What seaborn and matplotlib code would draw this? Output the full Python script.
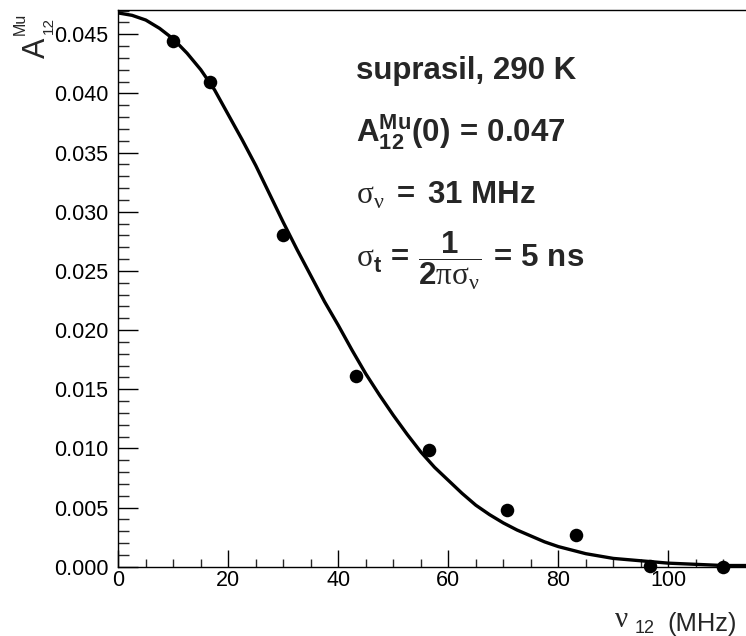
import matplotlib
matplotlib.use("Agg")
import matplotlib.pyplot as plt
import matplotlib.ticker as mticker
import pandas as pd
import seaborn as sns

# ---- data ----
nu_points = [10.0, 16.7, 29.9, 43.3, 56.5, 70.7, 83.2, 96.7, 109.9]
amp_points = [0.0444, 0.0410, 0.0280, 0.0161, 0.0099, 0.0048, 0.0027, 0.00005, 0.0000]

# fitted curve, every 2.5 MHz
nu_curve = [0, 2.5, 5, 7.5, 10, 12.5, 15, 17.5, 20, 22.5, 25, 27.5, 30, 32.5,
            35, 37.5, 40, 42.5, 45, 47.5, 50, 52.5, 55, 57.5, 60, 62.5, 65,
            67.5, 70, 72.5, 75, 77.5, 80, 82.5, 85, 87.5, 90, 92.5, 95, 97.5,
            100, 102.5, 105, 107.5, 110, 112.5, 115]
amp_curve = [0.0468, 0.0466, 0.0462, 0.0455, 0.0446, 0.0434, 0.0420, 0.0403,
             0.0382, 0.0361, 0.0339, 0.0315, 0.0291, 0.0268, 0.0246, 0.0224,
             0.0204, 0.0183, 0.0163, 0.0145, 0.0128, 0.0112, 0.0097, 0.0084,
             0.0073, 0.0062, 0.0052, 0.0044, 0.0037, 0.0031, 0.0026, 0.0021,
             0.0017, 0.0014, 0.0011, 0.0009, 0.0007, 0.0006, 0.0005, 0.0004,
             0.0003, 0.00025, 0.0002, 0.00015, 0.0001, 0.0001, 0.0001]

x_ticks = [0, 20, 40, 60, 80, 100]
y_ticks = [0.000, 0.005, 0.010, 0.015, 0.020, 0.025, 0.030, 0.035, 0.040, 0.045]
y_tick_labels = ["0.000", "0.005", "0.010", "0.015", "0.020", "0.025",
                 "0.030", "0.035", "0.040", "0.045"]

annot_title = "suprasil, 290 K"
annot_amp = r"$\mathbf{A}_{\mathbf{12}}^{\mathbf{Mu}}\mathbf{(0)\,=\,0.047}$"
annot_sigma_nu = r"$\mathtt{σ}_{\mathtt{ν}}\mathbf{\;=\;31\ MHz}$"
annot_sigma_t = (r"$\mathtt{σ}_{\mathbf{t}}\mathbf{\,=\,}"
                 r"\dfrac{\mathbf{1}}{\mathbf{2}\mathtt{πσ}_{\mathtt{ν}}}"
                 r"\mathbf{\,=\,5\ ns}$")

# ---- style ----
sns.set_style("ticks")
plt.rcParams["font.family"] = ["Liberation Sans", "DejaVu Sans"]
plt.rcParams["mathtext.fontset"] = "custom"
plt.rcParams["mathtext.rm"] = "Liberation Sans"
plt.rcParams["mathtext.bf"] = "Liberation Sans:bold"
plt.rcParams["mathtext.it"] = "Liberation Sans:italic"
plt.rcParams["mathtext.sf"] = "Liberation Sans"
plt.rcParams["mathtext.tt"] = "Liberation Serif"

W, H = 746, 636
fig = plt.figure(figsize=(W / 100, H / 100), dpi=100)
fig.patch.set_facecolor("white")

xmax = 115.0
px_per_unit = 5.5
left_px, bottom_px, top_px = 118.3, 566.7, 10.0
ax = fig.add_axes([left_px / W, 1 - bottom_px / H,
                   xmax * px_per_unit / W, (bottom_px - top_px) / H])
ax.set_facecolor("white")

curve_df = pd.DataFrame({"nu": nu_curve, "amp": amp_curve})
pts_df = pd.DataFrame({"nu": nu_points, "amp": amp_points})

sns.lineplot(data=curve_df, x="nu", y="amp", ax=ax, color="black",
             linewidth=2.4, sort=False, estimator=None)
sns.scatterplot(data=pts_df, x="nu", y="amp", ax=ax, color="black",
                s=95, linewidth=0, zorder=3, clip_on=False)

ax.set_xlim(0, xmax)
ax.set_ylim(0, 0.04705)
ax.set_xlabel("")
ax.set_ylabel("")

ax.set_xticks(x_ticks)
ax.set_xticklabels([str(t) for t in x_ticks])
ax.set_yticks(y_ticks)
ax.set_yticklabels(y_tick_labels)
ax.xaxis.set_minor_locator(mticker.MultipleLocator(5))
ax.yaxis.set_minor_locator(mticker.MultipleLocator(0.001))

for side in ["left", "top", "bottom", "right"]:
    ax.spines[side].set_visible(True)
    ax.spines[side].set_linewidth(1.0)
    ax.spines[side].set_color("black")

ax.tick_params(axis="y", which="major", direction="in", length=14.4, width=1.0,
               labelsize=15.5, pad=7, left=True, right=False, colors="black")
ax.tick_params(axis="y", which="minor", direction="in", length=7.7, width=1.0,
               left=True, right=False)
ax.tick_params(axis="x", which="major", direction="in", length=12.2, width=1.0,
               labelsize=15.5, pad=2.5, bottom=True, top=False, colors="black")
ax.tick_params(axis="x", which="minor", direction="in", length=5.8, width=1.0,
               bottom=True, top=False)

# ---- annotation block ----
def fx(px):
    return px / W

def fy(py):
    return 1 - py / H

fs_annot = 22.5
fig.text(fx(356), fy(79), annot_title, fontsize=fs_annot, fontweight="bold",
         ha="left", va="baseline")
fig.text(fx(356), fy(141), annot_amp, fontsize=fs_annot, ha="left", va="baseline")
fig.text(fx(356), fy(204), annot_sigma_nu, fontsize=fs_annot, ha="left", va="baseline")
fig.text(fx(356), fy(267), annot_sigma_t, fontsize=fs_annot, ha="left", va="baseline")

# ---- y axis title (rotated, ROOT style) ----
fig.text(fx(45), fy(58), "A", fontsize=22, rotation=90, rotation_mode="anchor",
         ha="left", va="baseline")
fig.text(fx(53), fy(33.5), "12", fontsize=11, rotation=90, rotation_mode="anchor",
         ha="left", va="baseline")
fig.text(fx(25), fy(35), "Mu", fontsize=11.5, rotation=90, rotation_mode="anchor",
         ha="left", va="baseline")

# ---- x axis title ----
fig.text(fx(615), fy(627), "ν", fontsize=21, family="Liberation Serif",
         ha="left", va="baseline")
fig.text(fx(635), fy(633), "12", fontsize=13, ha="left", va="baseline")
fig.text(fx(667), fy(631.5), "(MHz)", fontsize=18.4, ha="left", va="baseline")

fig.savefig("out.png", dpi=100)
